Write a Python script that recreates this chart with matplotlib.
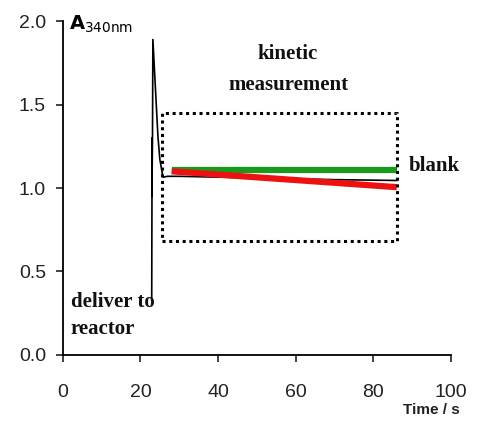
import matplotlib.pyplot as plt
import numpy as np

# absorbance trace at 340 nm
time_s = [22.9, 23.0, 22.95, 23.1, 23.2, 24.5, 25.0, 25.8, 27, 30, 40, 50, 60, 70, 80, 86]
absorb = [0.33, 1.30, 0.95, 1.30, 1.89, 1.31, 1.17, 1.065, 1.07, 1.07, 1.065, 1.06, 1.055, 1.05, 1.047, 1.045]

# fitted lines
fit_t = [28, 86]
blank_a = [1.105, 1.105]
sample_a = [1.10, 1.005]

# kinetic window box
box_t = [25.5, 86]
box_a = [0.685, 1.45]

fig = plt.figure(figsize=(4.83, 4.22), dpi=100)
ax = fig.add_axes([0.130, 0.159, 0.804, 0.791])

ax.plot(time_s, absorb, color="black", lw=1.2)
ax.plot(fit_t, blank_a, color="#1a9a1a", lw=4.5, solid_capstyle="butt")
ax.plot(fit_t, sample_a, color="#ee1111", lw=4.5, solid_capstyle="butt")

bx = [box_t[0], box_t[1], box_t[1], box_t[0], box_t[0]]
by = [box_a[0], box_a[0], box_a[1], box_a[1], box_a[0]]
ax.plot(bx, by, color="black", lw=2.2, linestyle=(0, (1, 1.2)))

ax.set_xlim(0, 100)
ax.set_ylim(0, 2.0)
ax.set_xticks([0, 20, 40, 60, 80, 100])
ax.set_yticks([0, 0.5, 1.0, 1.5, 2.0])
ax.set_yticklabels(["0.0", "0.5", "1.0", "1.5", "2.0"])
for s in ["top", "right"]:
    ax.spines[s].set_visible(False)
ax.spines["left"].set_linewidth(1.3)
ax.spines["bottom"].set_linewidth(1.3)
ax.tick_params(length=5, width=1.2, labelsize=14, colors="#222222")
ax.tick_params(axis="x", pad=16)
ax.tick_params(axis="y", pad=7)
for lab in ax.get_xticklabels() + ax.get_yticklabels():
    lab.set_family("Liberation Sans")

serif = dict(family="Liberation Serif", weight="bold", fontsize=15, color="#111111")
ax.text(58, 1.71, "kinetic\nmeasurement", ha="center", va="center", linespacing=1.7, **serif)
ax.text(89, 1.13, "blank", ha="left", va="center", **serif)
ax.text(2, 0.234, "deliver to\nreactor", ha="left", va="center", linespacing=1.45, **serif)
ax.text(1.5, 1.98, r"$\mathbf{A}_{\mathrm{340nm}}$", ha="left", va="center",
        fontsize=14, family="Liberation Sans")
ax.text(95, -0.33, "Time / s", ha="center", va="center", fontsize=11,
        weight="bold", family="Liberation Sans", color="#222222")

fig.savefig("out.png", dpi=100)
